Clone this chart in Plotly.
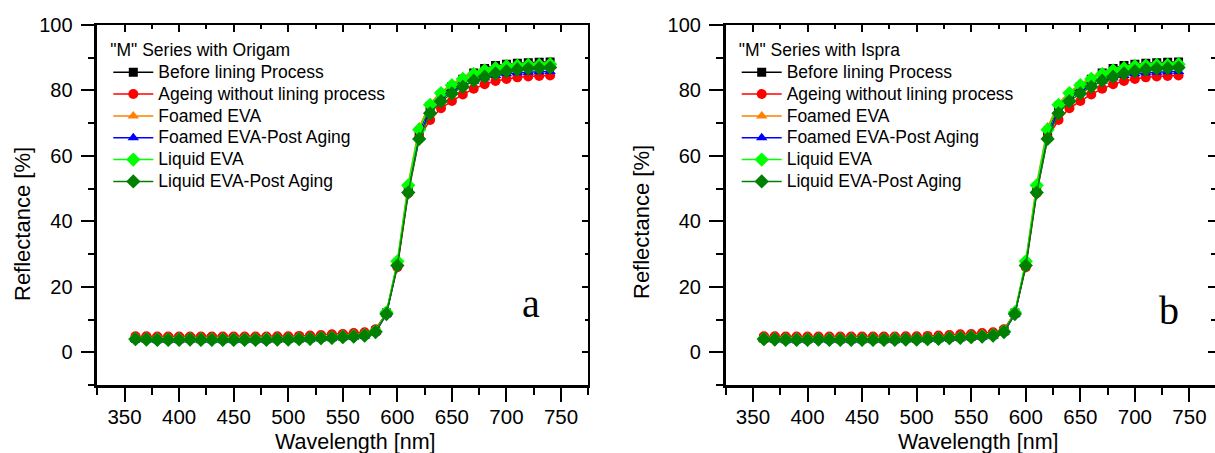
import plotly.graph_objects as go

# ---------------- data ----------------
wavelength = [360, 370, 380, 390, 400, 410, 420, 430, 440, 450, 460, 470, 480, 490,
              500, 510, 520, 530, 540, 550, 560, 570, 580, 590, 600, 610, 620, 630,
              640, 650, 660, 670, 680, 690, 700, 710, 720, 730, 740]

before_lining = [4.3, 4.2, 4.1, 4.1, 4.1, 4.2, 4.1, 4.1, 4.1, 4.1, 4.1, 4.1, 4.1, 4.2,
                 4.2, 4.3, 4.4, 4.6, 4.7, 4.9, 5.1, 5.4, 6.5, 12.0, 27.0, 50.0, 67.5, 75.2,
                 78.6, 81.2, 83.4, 85.3, 86.7, 87.6, 88.0, 88.3, 88.5, 88.6, 88.7]
ageing_no_lining = [4.9, 4.9, 4.8, 4.8, 4.8, 4.8, 4.8, 4.8, 4.8, 4.8, 4.8, 4.8, 4.8, 4.9,
                    4.9, 5.0, 5.1, 5.3, 5.5, 5.6, 5.9, 6.1, 7.0, 12.0, 26.0, 48.6, 65.5, 71.0,
                    74.6, 76.8, 78.8, 80.5, 81.9, 82.9, 83.5, 84.0, 84.3, 84.4, 84.6]
foamed_eva = [4.1, 4.0, 3.9, 3.9, 3.9, 4.0, 3.9, 3.9, 3.9, 3.9, 3.9, 3.9, 3.9, 4.0,
              4.0, 4.1, 4.2, 4.4, 4.5, 4.7, 4.9, 5.2, 6.3, 12.0, 27.5, 51.5, 68.8, 76.0,
              79.5, 82.0, 84.0, 85.5, 86.6, 87.4, 87.9, 88.1, 88.3, 88.4, 88.5]
foamed_eva_post = [3.9, 3.8, 3.7, 3.7, 3.7, 3.8, 3.7, 3.7, 3.7, 3.7, 3.7, 3.7, 3.7, 3.8,
                   3.8, 3.9, 4.0, 4.2, 4.3, 4.5, 4.7, 5.0, 6.1, 11.6, 26.8, 49.5, 66.0, 74.0,
                   77.5, 79.8, 81.4, 82.8, 83.8, 84.6, 85.1, 85.4, 85.6, 85.7, 85.8]
liquid_eva = [4.1, 4.0, 3.9, 3.9, 3.9, 4.0, 3.9, 3.9, 3.9, 3.9, 3.9, 3.9, 4.0, 4.0,
              4.0, 4.1, 4.2, 4.4, 4.5, 4.7, 4.9, 5.2, 6.4, 12.2, 27.8, 51.0, 68.0, 75.6,
              79.2, 81.6, 83.5, 85.0, 86.1, 86.8, 87.4, 87.6, 87.8, 87.8, 88.0]
liquid_eva_post = [4.0, 3.9, 3.8, 3.8, 3.8, 3.9, 3.8, 3.8, 3.8, 3.8, 3.8, 3.8, 3.8, 3.9,
                   3.9, 4.0, 4.1, 4.3, 4.4, 4.6, 4.8, 5.1, 6.2, 11.7, 26.5, 48.8, 65.2, 73.0,
                   76.7, 79.1, 81.1, 83.0, 84.2, 85.2, 85.9, 86.4, 86.7, 86.8, 87.0]

series_values = [before_lining, ageing_no_lining, foamed_eva, foamed_eva_post, liquid_eva, liquid_eva_post]
series_names = ["Before lining Process", "Ageing without lining process", "Foamed EVA",
                "Foamed EVA-Post Aging", "Liquid EVA", "Liquid EVA-Post Aging"]
series_colors = ["#000000", "#FF0000", "#FF8000", "#0000FF", "#00FF00", "#008000"]
series_symbols = ["square", "circle", "triangle-up", "triangle-up", "diamond", "diamond"]
marker_sizes = [9, 10, 10, 10, 11, 11]

panel_titles = ['"M" Series with Origam', '"M" Series with Ispra']
panel_letters = ["a", "b"]
x_tick_vals = [350, 400, 450, 500, 550, 600, 650, 700, 750]
y_tick_vals = [0, 20, 40, 60, 80, 100]
x_title = "Wavelength [nm]"
y_title = "Reflectance [%]"

FONT = "Arial, 'Liberation Sans', sans-serif"
SERIF = "'Times New Roman', 'Liberation Serif', serif"
W, H = 1215, 453

fig = go.Figure()

# panel geometry (pixels)
panels = [
    dict(x0=97.3, x1=588.3, xr=[325, 775], ax="x", ay="y", tx="x3", ty="y3", leg="legend",
         legx=108.3, ytx=22, yty=224, xtx=355, letx=530.5, lety=303, right_line=True),
    dict(x0=725.7, x1=1215.0, xr=[325, 773.4], ax="x2", ay="y2", tx="x4", ty="y4", leg="legend2",
         legx=736.7, ytx=641, yty=222, xtx=978, letx=1168.5, lety=310, right_line=False),
]
ytop, ybot = 25.0, 385.0
ydom = [1 - ybot / H, 1 - ytop / H]

layout_axes = {}
for i, p in enumerate(panels):
    for vals, name, color, sym, ms in zip(series_values, series_names, series_colors, series_symbols, marker_sizes):
        fig.add_trace(go.Scatter(
            x=wavelength, y=vals, mode="lines+markers",
            name='<span style="font-size:17.5px">' + name + '</span>',
            line=dict(color=color, width=1.5),
            marker=dict(symbol=sym, size=ms, color=color, line=dict(width=0)),
            xaxis=p["ax"], yaxis=p["ay"], legend=p["leg"],
        ))
    # dummy trace for mirrored (inside-tick) axes
    fig.add_trace(go.Scatter(x=[None], y=[None], xaxis=p["tx"], yaxis=p["ty"],
                             showlegend=False, hoverinfo="skip"))

    xdom = [p["x0"] / W, p["x1"] / W]
    axn = "xaxis" if p["ax"] == "x" else "xaxis" + p["ax"][1:]
    ayn = "yaxis" if p["ay"] == "y" else "yaxis" + p["ay"][1:]
    txn = "xaxis" + p["tx"][1:]
    tyn = "yaxis" + p["ty"][1:]

    layout_axes[axn] = dict(
        domain=xdom, range=p["xr"], anchor=p["ay"], showgrid=False, zeroline=False,
        showline=True, linecolor="black", linewidth=2.5,
        tickmode="array", tickvals=x_tick_vals, ticks="outside", ticklen=14, tickwidth=2,
        tickcolor="black", ticklabelstandoff=-2,
        tickfont=dict(family=FONT, size=20.5, color="black"),
        minor=dict(dtick=25, tick0=325, ticks="outside", ticklen=7, tickwidth=2, tickcolor="black"),
        automargin=False,
    )
    layout_axes[ayn] = dict(
        domain=ydom, range=[-10, 100], anchor=p["ax"], showgrid=False, zeroline=False,
        showline=True, linecolor="black", linewidth=2.5,
        tickmode="array", tickvals=y_tick_vals, ticks="outside", ticklen=14, tickwidth=2,
        tickcolor="black", ticklabelstandoff=4,
        tickfont=dict(family=FONT, size=20, color="black"),
        minor=dict(dtick=10, tick0=0, ticks="outside", ticklen=7, tickwidth=2, tickcolor="black"),
        automargin=False,
    )
    layout_axes[txn] = dict(
        overlaying=p["ax"], side="top", anchor=p["ay"], range=p["xr"], showgrid=False,
        zeroline=False, showline=True, linecolor="black", linewidth=1.5,
        tickmode="array", tickvals=x_tick_vals, ticks="inside", ticklen=7, tickwidth=2,
        tickcolor="black", showticklabels=False,
        minor=dict(dtick=25, tick0=325, ticks="inside", ticklen=4, tickwidth=1.5, tickcolor="black"),
        automargin=False,
    )
    layout_axes[tyn] = dict(
        overlaying=p["ay"], side="right", anchor=p["ax"], range=[-10, 100], showgrid=False,
        zeroline=False, showline=p["right_line"], linecolor="black", linewidth=1.5,
        tickmode="array", tickvals=y_tick_vals, ticks="inside", ticklen=7, tickwidth=2,
        tickcolor="black", showticklabels=False,
        minor=dict(dtick=10, tick0=0, ticks="inside", ticklen=4, tickwidth=1.5, tickcolor="black"),
        automargin=False,
    )

    layout_axes[p["leg"]] = dict(
        x=p["legx"] / W, y=1 - 33.5 / H, xanchor="left", yanchor="top",
        bgcolor="rgba(0,0,0,0)", borderwidth=0, itemwidth=40, tracegroupgap=0,
        font=dict(family=FONT, size=14.5, color="black"),
        title=dict(text=panel_titles[i], font=dict(family=FONT, size=17.5, color="black")),
    )

fig.update_layout(**layout_axes)

annotations = []
for i, p in enumerate(panels):
    annotations.append(dict(text=y_title, x=p["ytx"] / W, y=1 - p["yty"] / H, xref="paper", yref="paper",
                            textangle=-90, showarrow=False, xanchor="center", yanchor="middle",
                            font=dict(family=FONT, size=22, color="black")))
    annotations.append(dict(text=x_title, x=p["xtx"] / W, y=1 - 441.5 / H, xref="paper", yref="paper",
                            showarrow=False, xanchor="center", yanchor="middle",
                            font=dict(family=FONT, size=21.5, color="black")))
    annotations.append(dict(text=panel_letters[i], x=p["letx"] / W, y=1 - p["lety"] / H,
                            xref="paper", yref="paper", showarrow=False, xanchor="center",
                            yanchor="middle", font=dict(family=SERIF, size=40, color="black")))

fig.update_layout(
    width=W, height=H, autosize=False,
    margin=dict(l=0, r=0, t=0, b=0, pad=0),
    paper_bgcolor="white", plot_bgcolor="white",
    annotations=annotations,
    font=dict(family=FONT, color="black"),
)

fig.write_html("out.html", config={"displayModeBar": False},
               post_script="document.body.style.margin='0';document.body.style.overflow='hidden';")
